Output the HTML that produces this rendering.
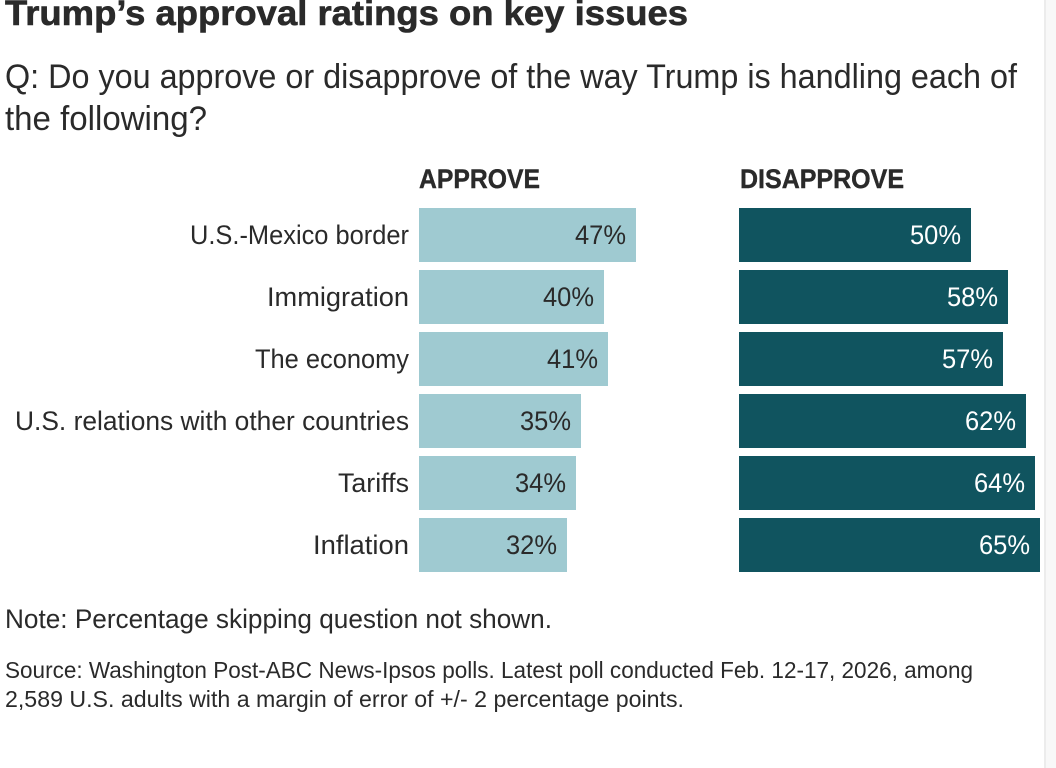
<!DOCTYPE html>
<html lang="en">
<head>
<meta charset="utf-8">
<title>Trump's approval ratings on key issues</title>
<style>
html,body{margin:0;padding:0;background:#fff;width:1056px;height:768px;overflow:hidden}
svg{display:block;font-family:"Liberation Sans",Arial,sans-serif}
text{fill:#2a2a2a}
.cat{font-size:27px;text-anchor:end}
</style>
</head>
<body>
<svg id="chart" xmlns="http://www.w3.org/2000/svg" width="1056" height="768" viewBox="0 0 1056 768">
  <rect x="1044" y="0" width="12" height="768" fill="#f8f8f8"/>
  <rect x="1044" y="0" width="2" height="768" fill="#ececec"/>
  <text x="5" y="25" font-size="35" font-weight="700" stroke="#2a2a2a" stroke-width="0.6" textLength="683" lengthAdjust="spacingAndGlyphs">Trump’s approval ratings on key issues</text>
  <text x="5" y="88" font-size="34" textLength="1012" lengthAdjust="spacingAndGlyphs">Q: Do you approve or disapprove of the way Trump is handling each of</text>
  <text x="5" y="130" font-size="34" textLength="202" lengthAdjust="spacingAndGlyphs">the following?</text>
  <text x="419" y="188" font-size="26.5" font-weight="700" stroke="#2a2a2a" stroke-width="0.4" textLength="121" lengthAdjust="spacingAndGlyphs">APPROVE</text>
  <text x="740" y="188" font-size="26.5" font-weight="700" stroke="#2a2a2a" stroke-width="0.4" textLength="164" lengthAdjust="spacingAndGlyphs">DISAPPROVE</text>
  <g id="labels">
    <text class="cat" x="409" textLength="219" lengthAdjust="spacingAndGlyphs"></text>
    <text class="cat" x="409" textLength="142" lengthAdjust="spacingAndGlyphs"></text>
    <text class="cat" x="409" textLength="154" lengthAdjust="spacingAndGlyphs"></text>
    <text class="cat" x="409" textLength="394" lengthAdjust="spacingAndGlyphs"></text>
    <text class="cat" x="409" textLength="71" lengthAdjust="spacingAndGlyphs"></text>
    <text class="cat" x="409" textLength="96" lengthAdjust="spacingAndGlyphs"></text>
  </g>
  <g id="rows"></g>
  <text x="5" y="628" font-size="27" textLength="547" lengthAdjust="spacingAndGlyphs">Note: Percentage skipping question not shown.</text>
  <text x="5" y="678" font-size="23.5" textLength="968" lengthAdjust="spacingAndGlyphs">Source: Washington Post-ABC News-Ipsos polls. Latest poll conducted Feb. 12-17, 2026, among</text>
  <text x="5" y="707" font-size="23.5" textLength="679" lengthAdjust="spacingAndGlyphs">2,589 U.S. adults with a margin of error of +/- 2 percentage points.</text>
</svg>
<script>
const categories = ["U.S.-Mexico border", "Immigration", "The economy", "U.S. relations with other countries", "Tariffs", "Inflation"];
const approveValues = [47, 40, 41, 35, 34, 32];
const disapproveValues = [50, 58, 57, 62, 64, 65];

const NS = "http://www.w3.org/2000/svg";
const rows = document.getElementById("rows");
const labelEls = document.querySelectorAll("#labels text");
const APPROVE_X = 419, DISAPPROVE_X = 739;
const APPROVE_SCALE = 4.62, DISAPPROVE_SCALE = 4.632;
const ROW_TOP = 208, ROW_STEP = 62, BAR_H = 54;

function xLen(v, scale) { return Math.round(v * scale); }
function yPos(i) { return ROW_TOP + i * ROW_STEP; }

function makeBar(x, i, v, scale, fill) {
  const r = document.createElementNS(NS, "rect");
  r.setAttribute("x", x);
  r.setAttribute("y", yPos(i));
  r.setAttribute("width", xLen(v, scale));
  r.setAttribute("height", BAR_H);
  r.setAttribute("fill", fill);
  return r;
}
function makeValue(x, i, v, scale, fill) {
  const t = document.createElementNS(NS, "text");
  t.setAttribute("x", x + xLen(v, scale) - 10);
  t.setAttribute("y", yPos(i) + 36);
  t.setAttribute("text-anchor", "end");
  t.setAttribute("font-size", "27");
  t.setAttribute("textLength", "51");
  t.setAttribute("lengthAdjust", "spacingAndGlyphs");
  t.style.fill = fill;
  t.textContent = v + "%";
  return t;
}

categories.forEach(function (c, i) {
  labelEls[i].setAttribute("y", yPos(i) + 36);
  labelEls[i].textContent = c;

  const a = makeBar(APPROVE_X, i, approveValues[i], APPROVE_SCALE, "#9fcad1");
  
  
  rows.appendChild(a);

  const av = makeValue(APPROVE_X, i, approveValues[i], APPROVE_SCALE, "#2a2a2a");
  
  
  rows.appendChild(av);

  const d = makeBar(DISAPPROVE_X, i, disapproveValues[i], DISAPPROVE_SCALE, "#10545f");
  
  
  rows.appendChild(d);

  const dv = makeValue(DISAPPROVE_X, i, disapproveValues[i], DISAPPROVE_SCALE, "#ffffff");
  
  
  rows.appendChild(dv);
});
</script>
</body>
</html>
